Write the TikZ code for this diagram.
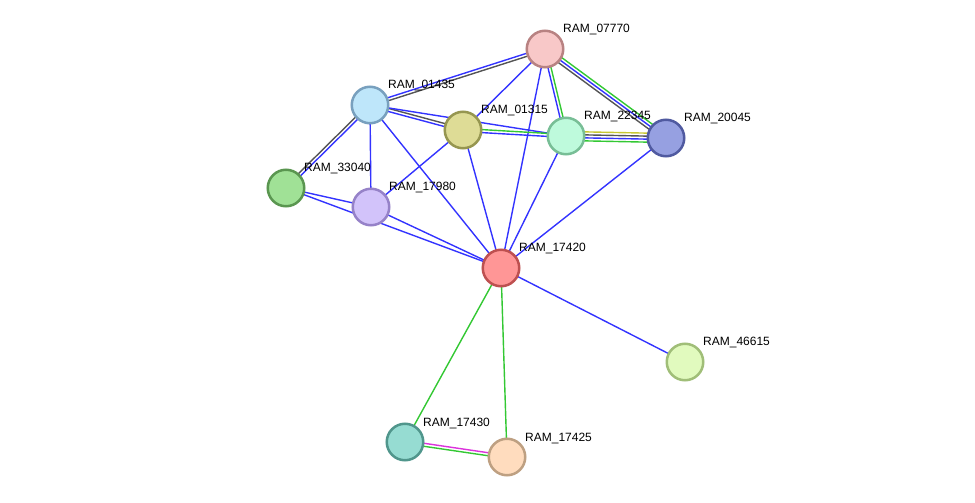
\documentclass[tikz,border=0pt]{standalone}
\usepackage{fontspec}
\setmainfont{Liberation Sans}
\usetikzlibrary{calc,backgrounds}
\definecolor{eblue}{RGB}{51,51,255}
\definecolor{egreen}{RGB}{51,200,51}
\definecolor{egray}{RGB}{85,85,85}
\definecolor{eyellow}{RGB}{200,200,50}
\definecolor{emag}{RGB}{220,50,220}
\tikzset{
  prot/.style={circle,minimum size=36.5pt,inner sep=0pt,line width=2.5pt},
  lbl/.style={anchor=west,inner sep=0pt,font=\fontsize{12}{14}\selectfont},
  edge/.style={line width=1.4pt}
}
\newcommand{\oedge}[4]{\draw[edge,#4] ($(#1.center)!#3!90:(#2.center)$) -- ($(#2.center)!#3!-90:(#1.center)$);}
\begin{document}
\begin{tikzpicture}[x=1pt,y=-1pt]
\useasboundingbox (0,0) rectangle (975,503);
\def\mknode#1#2#3#4#5{%
  \node[prot,fill={rgb,255:#4},draw={rgb,255:#5}] (n#1) at (#2,#3) {};
  \node[lbl] (l#1) at (#2+18,#3-19) {RAM\_#1};}
\mknode{07770}{545}{49}{red,248;green,200;blue,200}{red,184;green,130;blue,130}
\mknode{01435}{370}{105}{red,190;green,230;blue,250}{red,120;green,160;blue,190}
\mknode{01315}{463}{130}{red,222;green,220;blue,150}{red,150;green,150;blue,80}
\mknode{22345}{566}{136}{red,190;green,250;blue,220}{red,120;green,190;blue,150}
\mknode{20045}{666}{138}{red,150;green,160;blue,225}{red,80;green,90;blue,160}
\mknode{33040}{286}{188}{red,160;green,225;blue,150}{red,90;green,150;blue,80}
\mknode{17980}{371}{207}{red,210;green,195;blue,250}{red,150;green,130;blue,200}
\mknode{17420}{501}{268}{red,255;green,150;blue,150}{red,190;green,80;blue,80}
\mknode{46615}{685}{362}{red,225;green,250;blue,190}{red,160;green,190;blue,120}
\mknode{17430}{405}{442}{red,150;green,220;blue,210}{red,80;green,150;blue,140}
\mknode{17425}{507}{457}{red,255;green,220;blue,190}{red,190;green,160;blue,130}
\begin{scope}[on background layer]
\oedge{n01435}{n07770}{1.5pt}{eblue}
\oedge{n01435}{n07770}{-1.5pt}{egray}
\oedge{n07770}{n01315}{0pt}{eblue}
\oedge{n07770}{n17420}{0pt}{eblue}
\oedge{n22345}{n07770}{1.5pt}{eblue}
\oedge{n22345}{n07770}{-1.5pt}{egreen}
\oedge{n07770}{n20045}{3pt}{egreen}
\oedge{n07770}{n20045}{0pt}{eblue}
\oedge{n07770}{n20045}{-3pt}{egray}
\oedge{n01435}{n01315}{1.5pt}{egray}
\oedge{n01435}{n01315}{-1.5pt}{eblue}
\oedge{n01435}{n22345}{0pt}{eblue}
\oedge{n33040}{n01435}{1.5pt}{egray}
\oedge{n33040}{n01435}{-1.5pt}{eblue}
\oedge{n01435}{n17980}{0pt}{eblue}
\oedge{n01435}{n17420}{0pt}{eblue}
\oedge{n01315}{n22345}{1.5pt}{egreen}
\oedge{n01315}{n22345}{-1.5pt}{eblue}
\oedge{n01315}{n17980}{0pt}{eblue}
\oedge{n01315}{n17420}{0pt}{eblue}
\oedge{n22345}{n20045}{4.5pt}{eyellow}
\oedge{n22345}{n20045}{1.5pt}{egray}
\oedge{n22345}{n20045}{-1.5pt}{eblue}
\oedge{n22345}{n20045}{-4.5pt}{egreen}
\oedge{n22345}{n17420}{0pt}{eblue}
\oedge{n20045}{n17420}{0pt}{eblue}
\oedge{n33040}{n17980}{0pt}{eblue}
\oedge{n33040}{n17420}{0pt}{eblue}
\oedge{n17980}{n17420}{0pt}{eblue}
\oedge{n17420}{n46615}{0pt}{eblue}
\oedge{n17420}{n17430}{0pt}{egreen}
\oedge{n17420}{n17425}{0pt}{egreen}
\oedge{n17430}{n17425}{1.5pt}{emag}
\oedge{n17430}{n17425}{-1.5pt}{egreen}
\end{scope}
\end{tikzpicture}
\end{document}
